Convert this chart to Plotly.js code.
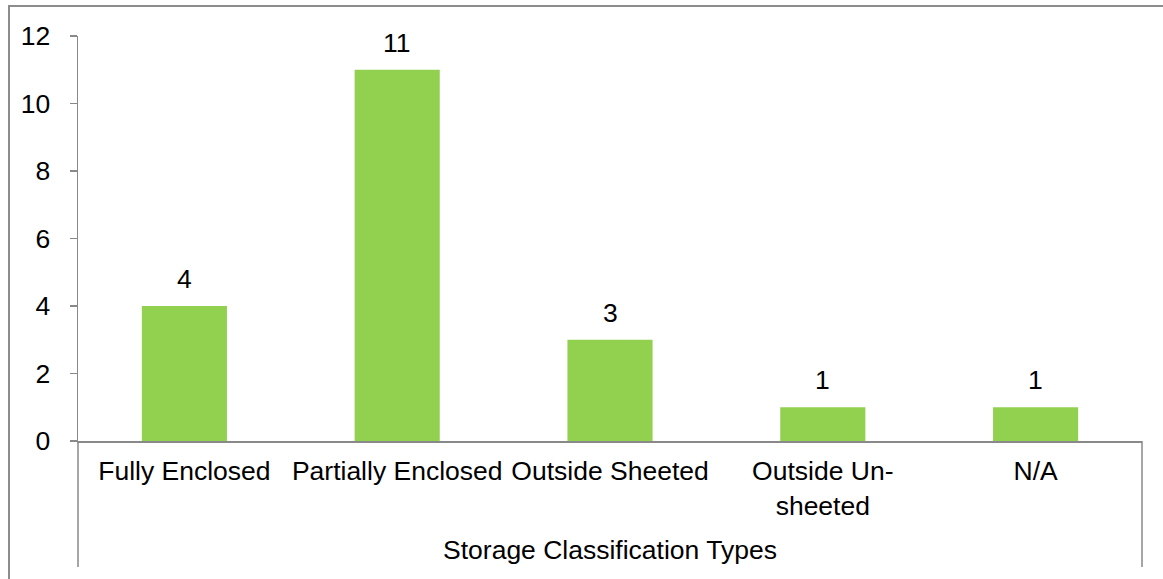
<!DOCTYPE html>
<html>
<head>
<meta charset="utf-8">
<script src="https://cdn.plot.ly/plotly-3.0.1.min.js"></script>
<style>
html,body{margin:0;padding:0;background:#fff;overflow:hidden;}
#frame{position:absolute;left:8px;top:5px;width:1200px;height:620px;border:2px solid #8c8c8c;box-sizing:border-box;}
#chart{position:absolute;left:0;top:0;width:1163px;height:579px;}
</style>
</head>
<body>
<div id="frame"></div>
<div id="chart"></div>
<script>
const categories = ["Fully Enclosed", "Partially Enclosed", "Outside Sheeted", "Outside Un-<br>sheeted", "N/A"];
const counts = [4, 11, 3, 1, 1];
const yTicks = [0, 2, 4, 6, 8, 10, 12];
const axisTitle = "Storage Classification Types";

const FONT = "Liberation Sans, Arial, sans-serif";
const FS = 26.5;
const AX = "#898989";

const trace = {
  type: "bar",
  x: categories,
  y: counts,
  marker: {color: "#92D050"},
  hoverinfo: "none"
};

const annotations = categories.map((c, i) => ({
  x: c, y: counts[i], xref: "x", yref: "y",
  text: String(counts[i]), showarrow: false,
  yanchor: "middle", yshift: 27,
  font: {family: FONT, size: FS, color: "#000"}
}));

const layout = {
  width: 1163, height: 579,
  margin: {l: 78, r: 21, t: 36, b: 138},
  paper_bgcolor: "rgba(0,0,0,0)",
  plot_bgcolor: "rgba(0,0,0,0)",
  showlegend: false,
  bargap: 0.6,
  font: {family: FONT, size: FS, color: "#000"},
  xaxis: {
    type: "category",
    showline: true, linecolor: AX, linewidth: 1.5,
    ticks: "", showgrid: false, zeroline: false,
    tickfont: {family: FONT, size: FS, color: "#000"},
    ticklabelstandoff: 6,
    automargin: false,
    title: {text: axisTitle, font: {family: FONT, size: FS, color: "#000"}, standoff: 20}
  },
  yaxis: {
    range: [0, 12],
    tickvals: yTicks,
    ticktext: yTicks.map(String),
    showline: true, linecolor: AX, linewidth: 1.5,
    ticks: "outside", ticklen: 7, tickcolor: AX, tickwidth: 1.5,
    showgrid: false, zeroline: false,
    tickfont: {family: FONT, size: FS, color: "#000"},
    ticklabelstandoff: 14,
    automargin: false
  },
  annotations: annotations,
  shapes: [
    {type: "line", xref: "paper", yref: "paper", x0: 0, x1: 0, y0: 0, y1: -0.311, line: {color: AX, width: 1.5}},
    {type: "line", xref: "paper", yref: "paper", x0: 1, x1: 1, y0: 0, y1: -0.311, line: {color: AX, width: 1.5}}
  ]
};

Plotly.newPlot("chart", [trace], layout, {displayModeBar: false, staticPlot: true});
</script>
</body>
</html>
